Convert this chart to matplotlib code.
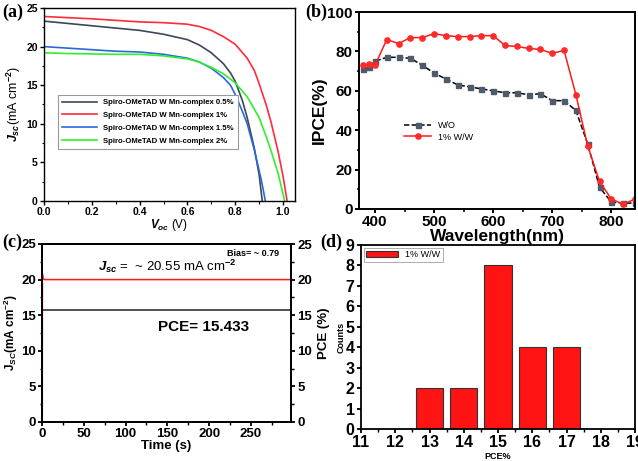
import matplotlib
matplotlib.use("Agg")
import matplotlib.pyplot as plt
from matplotlib.ticker import MultipleLocator
import numpy as np

plt.rcParams['font.family'] = ['Liberation Sans', 'DejaVu Sans']
plt.rcParams['mathtext.fontset'] = 'custom'
plt.rcParams['mathtext.rm'] = 'Liberation Sans:bold'
plt.rcParams['mathtext.it'] = 'Liberation Sans:italic:bold'
plt.rcParams['mathtext.bf'] = 'Liberation Sans:bold'

###################################
# data
###################################

# (a) J-V curves
v_05 = [0, 0.1, 0.2, 0.3, 0.4, 0.5, 0.6, 0.65, 0.7, 0.75, 0.78, 0.8, 0.83, 0.85, 0.88, 0.9, 0.913]
j_05 = [23.3, 23.0, 22.7, 22.4, 22.1, 21.6, 20.9, 20.2, 19.2, 17.8, 16.6, 15.5, 13.0, 10.8, 6.8, 3.4, 0]
v_1 = [0, 0.1, 0.2, 0.3, 0.4, 0.5, 0.6, 0.65, 0.7, 0.75, 0.8, 0.85, 0.88, 0.9, 0.93, 0.95, 0.98, 1.0, 1.017]
j_1 = [23.9, 23.75, 23.6, 23.4, 23.2, 23.1, 22.9, 22.6, 22.1, 21.3, 20.3, 18.5, 16.9, 15.2, 12.4, 10.2, 6.3, 3.2, 0]
v_15 = [0, 0.1, 0.2, 0.3, 0.4, 0.5, 0.6, 0.65, 0.7, 0.75, 0.78, 0.8, 0.83, 0.85, 0.88, 0.91, 0.926]
j_15 = [20.0, 19.8, 19.6, 19.4, 19.3, 19.0, 18.5, 18.0, 17.2, 16.0, 15.0, 13.8, 11.6, 10.0, 6.6, 2.6, 0]
v_2 = [0, 0.1, 0.2, 0.3, 0.4, 0.5, 0.6, 0.65, 0.7, 0.75, 0.8, 0.85, 0.9, 0.93, 0.95, 0.98, 1.007]
j_2 = [19.2, 19.1, 19.05, 19.0, 19.0, 18.8, 18.4, 18.0, 17.3, 16.5, 15.3, 13.5, 10.8, 8.3, 6.5, 3.5, 0]

# (b) IPCE
wl = [380, 390, 400, 420, 440, 460, 480, 500, 520, 540, 560, 580, 600, 620, 640,
      660, 680, 700, 720, 740, 760, 780, 800, 820, 840]
ipce_wo = [71, 72, 75, 77, 77, 76.5, 73, 69, 66, 63, 62, 61, 60, 59, 59,
           58, 58.5, 55, 55, 50, 33, 11, 3.5, 3, 3]
ipce_1 = [73, 73.5, 73, 86, 84, 87, 87, 89, 88, 87.5, 87.5, 88, 88, 83, 82.5,
          81.5, 81, 79, 80.5, 58, 32, 14, 5, 2.5, 5]

# (c) stability at bias
t_red = [0.3, 0.5, 1.2, 3, 298]
j_red = [0, 20.8, 20.2, 20.0, 20.0]
t_blk = [1.5, 298]
pce_blk = [15.8, 15.8]

# (d) histogram
pce_bins = [13, 14, 15, 16, 17]
counts = [2, 2, 8, 4, 4]

###################################
# figure
###################################

W, H = 638, 461
fig = plt.figure(figsize=(W / 100, H / 100), dpi=100)


def box(l, t, r, b):
    return [l / W, 1 - b / H, (r - l) / W, (b - t) / H]


def style(ax, size, lw=1.0):
    for s in ax.spines.values():
        s.set_linewidth(lw)
    ax.tick_params(which='major', direction='out', length=3, width=lw, labelsize=size, pad=1.5)
    ax.tick_params(which='minor', direction='out', length=1.8, width=lw * 0.8)
    for lab in ax.get_xticklabels() + ax.get_yticklabels():
        lab.set_fontweight('bold')


# ---- (a)
ax = fig.add_axes(box(44, 8, 295, 201))
ax.plot(v_05, j_05, color='#3b4856', lw=1.2, label='Spiro-OMeTAD W Mn-complex 0.5%')
ax.plot(v_1, j_1, color='#ff2a3a', lw=1.2, label='Spiro-OMeTAD W Mn-complex 1%')
ax.plot(v_15, j_15, color='#2d68d8', lw=1.2, label='Spiro-OMeTAD W Mn-complex 1.5%')
ax.plot(v_2, j_2, color='#2ef02e', lw=1.2, label='Spiro-OMeTAD W Mn-complex 2%')
ax.set_xlim(0, 1.05)
ax.set_ylim(0, 25)
ax.xaxis.set_minor_locator(MultipleLocator(0.1))
ax.yaxis.set_major_locator(MultipleLocator(5))
ax.yaxis.set_minor_locator(MultipleLocator(2.5))
ax.set_xticks(np.arange(0, 1.01, 0.2))
ax.set_xticklabels(['0.0', '0.2', '0.4', '0.6', '0.8', '1.0'])
style(ax, 7.5)
ax.set_xlabel(r'$V_{oc}$ (V)', fontsize=8.5, labelpad=0)
ax.set_ylabel(r'$J_{sc}$(mA cm$^{-2}$)', fontsize=9, labelpad=2)
leg = ax.legend(loc='lower left', bbox_to_anchor=(0.04, 0.25),
                prop={'weight': 'bold', 'size': 5.6}, fancybox=False, edgecolor='#999999',
                handlelength=4.5, borderpad=0.5, labelspacing=0.7, framealpha=1)
leg.get_frame().set_linewidth(0.8)

# ---- (b)
ax = fig.add_axes(box(359, 12, 635, 209))
ax.plot(wl, ipce_wo, color='black', ls=(0, (3.5, 1.5)), lw=1.1, marker='s', ms=3.6,
        mfc='#4d5b6b', mec='#4d5b6b', label='W/O')
ax.plot(wl, ipce_1, color='#ff1a1a', lw=1.1, marker='o', ms=3.8,
        mfc='#ff2a2a', mec='#ff2a2a', label='1% W/W')
ax.set_xlim(373, 840)
ax.set_ylim(0, 100)
ax.xaxis.set_major_locator(MultipleLocator(100))
ax.xaxis.set_minor_locator(MultipleLocator(50))
ax.yaxis.set_major_locator(MultipleLocator(20))
ax.yaxis.set_minor_locator(MultipleLocator(10))
style(ax, 11, 1.4)
ax.set_xlabel('Wavelength(nm)', fontsize=12.5, fontweight='bold', labelpad=0)
ax.set_ylabel('IPCE(%)', fontsize=12.5, fontweight='bold', labelpad=0)
ax.legend(loc='lower left', bbox_to_anchor=(0.14, 0.31), fontsize=6.5, frameon=False,
          handlelength=3, labelspacing=0.3, borderpad=0.2)

# ---- (c)
ax = fig.add_axes(box(42, 244, 291, 422))
ax.plot(t_blk, pce_blk, color='#222222', lw=1.1)
ax.plot(t_red, j_red, color='#ff1a1a', lw=1.1)
ax.set_xlim(0, 298)
ax.set_ylim(0, 25)
ax.xaxis.set_major_locator(MultipleLocator(50))
ax.xaxis.set_minor_locator(MultipleLocator(25))
ax.yaxis.set_major_locator(MultipleLocator(5))
ax.yaxis.set_minor_locator(MultipleLocator(2.5))
style(ax, 9.5, 1.3)
ax.set_xlabel('Time (s)', fontsize=9.5, fontweight='bold', labelpad=0)
ax.set_ylabel(r'J$_{SC}$(mA cm$^{-2}$)', fontsize=8.5, fontweight='bold', labelpad=1)
ax.text(284, 23.7, 'Bias= ~ 0.79', fontsize=6.5, fontweight='bold', ha='right', va='center')
ax.text(150, 21.8, r'$J_{sc}$ =  ~ 20.55 mA cm$^{-2}$', fontsize=9.5, ha='center', va='center')
ax.text(193, 13.3, 'PCE= 15.433', fontsize=11, fontweight='bold', ha='center', va='center')
ax2 = ax.twinx()
ax2.set_ylim(0, 25)
ax2.yaxis.set_major_locator(MultipleLocator(5))
ax2.yaxis.set_minor_locator(MultipleLocator(2.5))
style(ax2, 9.5, 1.3)
ax2.set_ylabel('PCE (%)', fontsize=9.5, fontweight='bold', labelpad=4)
ax.tick_params(top=False, which='both')

# ---- (d)
ax = fig.add_axes(box(361, 245, 635, 429))
ax.bar(pce_bins, counts, width=0.8, color='#ff1414', edgecolor='#333333', lw=0.8,
       label='1% W/W')
ax.set_xlim(11, 19)
ax.set_ylim(0, 9)
ax.xaxis.set_major_locator(MultipleLocator(1))
ax.xaxis.set_minor_locator(MultipleLocator(0.5))
ax.yaxis.set_major_locator(MultipleLocator(1))
style(ax, 11.5, 1.3)
ax.set_xlabel('PCE%', fontsize=6.5, fontweight='bold', labelpad=1)
ax.set_ylabel('Counts', fontsize=6.5, fontweight='bold', labelpad=0)
leg = ax.legend(loc='upper left', fontsize=6.5, fancybox=False, edgecolor='#888888',
                borderaxespad=0.3, handlelength=3.5, borderpad=0.3)
leg.get_frame().set_linewidth(0.6)

# panel letters
for s, x, y in [('(a)', 2, 4), ('(b)', 305, 4), ('(c)', 2, 234), ('(d)', 320, 234)]:
    fig.text(x / W, 1 - y / H, s, fontsize=13, fontweight='bold', family='Liberation Serif',
             ha='left', va='top')

fig.savefig('out.png', dpi=100)
